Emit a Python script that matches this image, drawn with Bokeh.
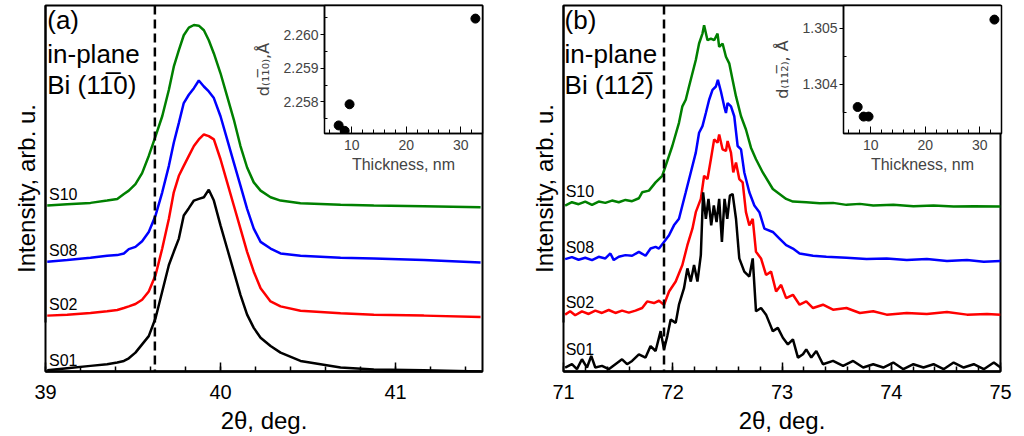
from bokeh.plotting import figure
from bokeh.models import Span, Label, FixedTicker, PrintfTickFormatter, Range1d, SingleIntervalTicker
from bokeh.embed import file_html
from bokeh.resources import INLINE

FONT = "Liberation Sans"

# ---------------- data: panel (a) Bi (1-10) ----------------
two_theta_a = [39.010, 39.124, 39.257, 39.352, 39.410, 39.448, 39.476, 39.514, 39.552, 39.590,
               39.629, 39.667, 39.705, 39.733, 39.762, 39.790, 39.819, 39.848, 39.876, 39.905,
               39.933, 39.962, 40.000, 40.038, 40.076, 40.114, 40.152, 40.190, 40.229, 40.286,
               40.343, 40.457, 40.686, 40.876, 41.162, 41.486]
a_S10 = [502, 506, 510, 517, 522, 537, 547, 567, 600, 652, 712, 772, 852, 922, 972, 1017, 1040, 1048,
         1046, 1032, 1002, 962, 902, 832, 762, 682, 617, 572, 547, 527, 517, 509, 504, 502, 500, 497]
a_S08 = [332, 337, 344, 350, 352, 357, 370, 377, 394, 422, 472, 542, 622, 692, 752, 812, 837, 857,
         880, 862, 847, 827, 772, 702, 632, 562, 492, 432, 392, 372, 357, 350, 344, 342, 337, 330]
a_S02 = [169, 172, 177, 182, 186, 192, 197, 204, 217, 242, 292, 372, 462, 542, 592, 622, 652, 682,
         702, 717, 712, 702, 642, 572, 502, 432, 362, 302, 252, 212, 197, 184, 176, 172, 169, 165]
a_S01 = [4, 10, 17, 22, 27, 32, 40, 57, 82, 107, 162, 242, 322, 362, 402, 472, 494, 517,
         522, 527, 550, 517, 442, 372, 302, 232, 172, 132, 102, 77, 57, 32, 12, 6, 4, 0]
bulk_a = 39.625

# ---------------- data: panel (b) Bi (11-2) ----------------
b_x_S10 = [71.015, 71.077, 71.138, 71.199, 71.261, 71.322, 71.383, 71.444, 71.506, 71.567,
           71.628, 71.690, 71.720, 71.782, 71.843, 71.904, 71.935, 71.996, 72.057, 72.088,
           72.119, 72.149, 72.180, 72.211, 72.241, 72.272, 72.287, 72.318, 72.349, 72.379,
           72.410, 72.425, 72.456, 72.487, 72.517, 72.548, 72.579, 72.625, 72.670, 72.716,
           72.762, 72.824, 72.916, 73.038, 73.100, 73.222, 73.345, 73.467, 73.590, 73.713,
           73.835, 74.019, 74.203, 74.387, 74.571, 74.755, 75.000]
b_S10 = [502, 512, 506, 514, 504, 514, 510, 517, 512, 519, 515, 524, 542, 547, 572, 592, 622, 682, 752, 802,
         822, 862, 902, 942, 992, 1022, 1047, 1002, 1007, 1002, 1022, 982, 992, 952, 932, 882, 832, 772, 732, 677,
         642, 602, 552, 522, 514, 512, 509, 510, 504, 507, 502, 504, 500, 502, 499, 500, 499]

b_x_S08 = [71.015, 71.077, 71.138, 71.199, 71.261, 71.322, 71.383, 71.429, 71.460, 71.506,
           71.567, 71.628, 71.690, 71.751, 71.797, 71.843, 71.874, 71.920, 71.966, 72.011,
           72.057, 72.088, 72.119, 72.165, 72.211, 72.241, 72.272, 72.303, 72.333, 72.364,
           72.395, 72.413, 72.441, 72.471, 72.487, 72.502, 72.533, 72.563, 72.594, 72.625,
           72.655, 72.701, 72.747, 72.793, 72.839, 72.916, 72.977, 73.038, 73.100, 73.161,
           73.284, 73.406, 73.590, 73.774, 73.958, 74.142, 74.326, 74.510, 74.693, 74.847, 75.000]
b_S08 = [340, 346, 338, 344, 337, 347, 342, 357, 337, 347, 352, 350, 362, 350, 372, 377, 372, 392, 412, 442,
         462, 502, 542, 602, 662, 722, 742, 782, 822, 852, 862, 882, 847, 802, 782, 812, 802, 772, 682, 672,
         602, 542, 502, 482, 432, 422, 402, 382, 372, 357, 350, 347, 344, 340, 342, 337, 340, 334, 337, 332, 334]

b_x_S02 = [71.015, 71.061, 71.107, 71.169, 71.230, 71.291, 71.352, 71.414, 71.475, 71.536,
           71.598, 71.659, 71.720, 71.766, 71.828, 71.874, 71.920, 71.966, 72.027, 72.088,
           72.134, 72.180, 72.211, 72.257, 72.287, 72.318, 72.349, 72.379, 72.410, 72.425,
           72.456, 72.487, 72.502, 72.533, 72.554, 72.579, 72.609, 72.640, 72.670, 72.701,
           72.732, 72.762, 72.808, 72.854, 72.900, 72.946, 72.992, 73.038, 73.100, 73.161,
           73.222, 73.284, 73.375, 73.467, 73.590, 73.713, 73.835, 73.958, 74.142, 74.326,
           74.510, 74.693, 74.877, 75.000]
b_S02 = [172, 182, 170, 182, 174, 184, 177, 186, 177, 184, 178, 184, 192, 212, 207, 214, 202, 242, 272, 322,
         382, 432, 482, 522, 592, 582, 642, 702, 692, 717, 672, 667, 697, 662, 602, 632, 582, 572, 482, 442,
         462, 362, 342, 292, 302, 242, 262, 222, 232, 202, 212, 192, 202, 187, 192, 177, 182, 172, 177, 174,
         180, 172, 174, 172]

b_x_S01 = [71.015, 71.077, 71.123, 71.169, 71.215, 71.254, 71.291, 71.352, 71.414, 71.475,
           71.536, 71.582, 71.628, 71.690, 71.751, 71.797, 71.843, 71.889, 71.920, 71.950,
           71.981, 72.027, 72.057, 72.103, 72.134, 72.165, 72.195, 72.226, 72.257, 72.278,
           72.303, 72.327, 72.352, 72.376, 72.401, 72.425, 72.450, 72.474, 72.499, 72.523,
           72.548, 72.579, 72.609, 72.655, 72.701, 72.732, 72.762, 72.808, 72.854, 72.885,
           72.916, 72.962, 73.008, 73.054, 73.100, 73.146, 73.192, 73.222, 73.268, 73.314,
           73.375, 73.467, 73.559, 73.651, 73.743, 73.835, 73.927, 74.019, 74.111, 74.203,
           74.295, 74.387, 74.479, 74.571, 74.663, 74.755, 74.847, 74.939, 75.000]
b_S01 = [12, 22, 7, 37, 12, 47, 12, 17, 7, 22, 37, 22, 32, 52, 42, 77, 62, 122, 67, 107,
         157, 147, 202, 252, 312, 272, 322, 272, 352, 542, 462, 522, 442, 502, 452, 522, 392, 522, 462, 532,
         537, 462, 342, 302, 287, 342, 182, 192, 172, 147, 122, 132, 102, 82, 97, 42, 52, 67, 42, 62,
         22, 32, 17, 32, 12, 22, 12, 27, 7, 22, 12, 22, 7, 27, 12, 22, 7, 27, 12]
bulk_b = 71.92

# ---------------- inset data ----------------
thickness = [7.6, 8.7, 9.6, 32.7]
d_110 = [2.2573, 2.25714, 2.25793, 2.26048]
d_112 = [1.30360, 1.30343, 1.30343, 1.30515]

samples = ["S10", "S08", "S02", "S01"]
colors = ["#008000", "#0000ff", "#ff0000", "#000000"]


def main_fig(x0, x1, left, width, mbr):
    p = figure(width=width, height=436, x_range=Range1d(x0, x1), y_range=Range1d(0, 1107),
               output_backend="svg", toolbar_location=None, tools="",
               min_border_left=45, min_border_right=mbr, min_border_top=5, min_border_bottom=62,
               styles={"position": "absolute", "left": f"{left}px", "top": "0px"})
    p.grid.visible = False
    p.outline_line_color = "black"
    p.outline_line_width = 2
    p.outline_line_alpha = 1
    p.background_fill_color = "white"
    p.border_fill_color = None
    xa = p.xaxis[0]
    xa.ticker = SingleIntervalTicker(interval=1, num_minor_ticks=5)
    xa.major_tick_in = 9
    xa.major_tick_out = 0
    xa.minor_tick_in = 5
    xa.minor_tick_out = 0
    xa.axis_line_width = 2.5
    xa.major_tick_line_width = 1.5
    xa.minor_tick_line_width = 1.5
    xa.major_label_text_font = FONT
    xa.major_label_text_font_size = "20px"
    xa.major_label_text_color = "black"
    xa.major_label_standoff = 13
    xa.axis_label = "2θ, deg."
    xa.axis_label_text_font = FONT
    xa.axis_label_text_font_size = "24px"
    xa.axis_label_text_font_style = "normal"
    xa.axis_label_text_color = "black"
    xa.axis_label_standoff = 5
    ya = p.yaxis[0]
    ya.ticker = FixedTicker(ticks=[])
    ya.bounds = (147, 1107)
    ya.major_tick_line_color = None
    ya.minor_tick_line_color = None
    ya.axis_line_width = 2
    ya.axis_label = "Intensity, arb. u."
    ya.axis_label_text_font = FONT
    ya.axis_label_text_font_size = "24px"
    ya.axis_label_text_font_style = "normal"
    ya.axis_label_text_color = "black"
    ya.axis_label_standoff = 6
    ya.major_label_standoff = 0
    return p


def inset_fig(left, mbl, ylo, yhi, yt, ymt, ybounds, ylabel, ys):
    q = figure(width=mbl + 161 + 4, height=178, x_range=Range1d(5, 34), y_range=Range1d(ylo, yhi),
               output_backend="svg", toolbar_location=None, tools="",
               min_border_left=mbl, min_border_right=4, min_border_top=5, min_border_bottom=45,
               styles={"position": "absolute", "left": f"{left}px", "top": "0px"})
    q.grid.visible = False
    q.outline_line_color = "black"
    q.outline_line_width = 1.5
    q.background_fill_color = "white"
    q.border_fill_color = None
    xa = q.xaxis[0]
    xa.ticker = FixedTicker(ticks=[10, 20, 30], minor_ticks=[6, 8, 12, 14, 16, 18, 22, 24, 26, 28, 32, 34])
    xa.major_tick_in = 7
    xa.major_tick_out = 0
    xa.minor_tick_in = 4
    xa.minor_tick_out = 0
    xa.axis_line_width = 1.5
    xa.major_label_text_font = FONT
    xa.major_label_text_font_size = "14px"
    xa.major_label_standoff = 6
    xa.axis_label = "Thickness, nm"
    xa.axis_label_text_font = FONT
    xa.axis_label_text_font_size = "16px"
    xa.axis_label_text_font_style = "normal"
    xa.axis_label_standoff = 3
    ya = q.yaxis[0]
    ya.ticker = FixedTicker(ticks=yt, minor_ticks=ymt)
    ya.bounds = ybounds
    ya.formatter = PrintfTickFormatter(format="%.3f")
    ya.major_tick_in = 0
    ya.major_tick_out = 4
    ya.minor_tick_in = 3
    ya.minor_tick_out = 0
    ya.axis_line_width = 1.5
    ya.major_label_text_font = FONT
    ya.major_label_text_font_size = "14px"
    ya.major_label_standoff = 2
    ya.axis_label = ylabel
    ya.axis_label_text_font = "DejaVu Sans"
    ya.axis_label_text_font_size = "16px"
    ya.axis_label_text_font_style = "normal"
    ya.axis_label_standoff = 7
    q.scatter(thickness, ys, size=9, color="black")
    return q


def decorate(p, xs_list, ys_list, bulk, x_text, tag, plane, tag_ys, label_ys):
    for xs, ys, c in zip(xs_list, ys_list, colors):
        p.line(xs, ys, line_color=c, line_width=2.5)
    p.add_layout(Span(location=bulk, dimension="height", line_color="black",
                      line_width=2.5, line_dash="9 5"))
    for t, yb in zip([tag, "in-plane", plane], tag_ys):
        p.add_layout(Label(x=x_text, y=yb, text=t, text_font=FONT, text_font_size="26px",
                           text_baseline="middle", text_align="left", text_color="black"))
    for s, yb in zip(samples, label_ys):
        p.add_layout(Label(x=x_text + 0.01, y=yb, text=s, text_font=FONT, text_font_size="16px",
                           text_baseline="middle", text_align="left", text_color="black"))


pa = main_fig(39, 41.497, 0, 518, 36)
decorate(pa, [two_theta_a] * 4, [a_S10, a_S08, a_S02, a_S01], bulk_a, 39.01,
         "(a)", "Bi (11\u03050)", [1064, 959, 866], [535, 367, 202, 34])

pb = main_fig(71, 75, 518, 504, 22)
decorate(pb, [b_x_S10, b_x_S08, b_x_S02, b_x_S01], [b_S10, b_S08, b_S02, b_S01], bulk_b, 71.01,
         "(b)", "Bi (112\u0305)", [1064, 959, 866], [544, 376, 208, 67])

ia = inset_fig(251, 70, 2.25706, 2.26087, [2.258, 2.259, 2.260], [2.2575, 2.2585, 2.2595, 2.2605],
               (2.2575, 2.26087), "d\u208d\u2081\u2081\u0305\u2080\u208e,Å", d_110)
ib = inset_fig(770, 70, 1.30313, 1.3054, [1.304, 1.305], [1.3035, 1.3045],
               (1.3035, 1.3054), "d\u208d\u2081\u2081\u2082\u0305\u208e, Å", d_112)

open("out.html", "w").write(file_html([pa, pb, ia, ib], INLINE))
